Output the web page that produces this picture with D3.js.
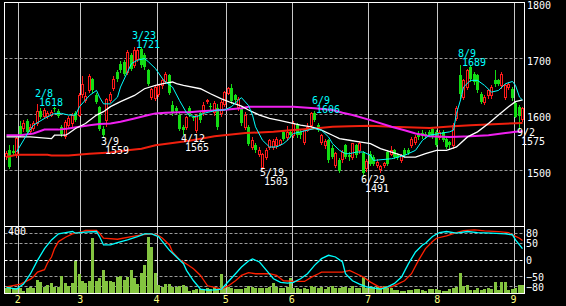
<!DOCTYPE html>
<html>
<head>
<meta charset="utf-8">
<script src="https://cdn.jsdelivr.net/npm/d3@7"></script>
<style>
body { margin:0; background:#000; }
svg { display:block; }
text { font-family: "DejaVu Sans Mono", "Liberation Mono", monospace; font-size:10px; }
</style>
</head>
<body>
<div id="chart"></div>
<script>
// daily candles: date, open, high, low, close
var candles = [
["1/26",1526,1535,1520,1532],["1/27",1536,1545,1504,1506],["1/28",1535,1545,1527,1531],["1/31",1527,1560,1524,1558],
["2/1",1580,1588,1562,1566],["2/2",1576,1590,1570,1584],["2/3",1588,1592,1565,1569],["2/4",1570,1583,1566,1578],
["2/7",1576,1588,1572,1585],["2/8",1584,1618,1582,1606],["2/9",1607,1612,1594,1596],["2/10",1598,1612,1594,1608],
["2/14",1597,1606,1593,1603],["2/15",1600,1608,1598,1605],["2/16",1612,1614,1606,1609],["2/17",1606,1609,1596,1598],
["2/18",1578,1582,1562,1566],["2/21",1561,1590,1558,1587],["2/22",1582,1597,1578,1594],["2/23",1584,1602,1580,1599],
["2/24",1603,1606,1588,1591],["2/25",1600,1638,1597,1634],
["3/1",1637,1668,1632,1655],["3/2",1626,1640,1622,1633],["3/3",1643,1672,1640,1669],["3/4",1664,1666,1640,1643],
["3/7",1634,1638,1620,1623],["3/8",1613,1616,1572,1575],["3/9",1575,1580,1559,1563],["3/10",1590,1630,1580,1627],
["3/11",1626,1640,1622,1637],["3/14",1648,1668,1644,1664],["3/15",1676,1680,1660,1664],["3/16",1691,1695,1676,1679],
["3/17",1694,1697,1670,1673],["3/18",1676,1715,1672,1712],["3/22",1706,1710,1680,1682],["3/23",1688,1721,1684,1715],
["3/24",1700,1718,1696,1716],["3/25",1717,1720,1685,1688],["3/28",1706,1709,1682,1685],["3/29",1679,1682,1652,1655],
["3/30",1631,1648,1628,1646],["3/31",1630,1652,1626,1649],
["4/1",1637,1655,1633,1652],["4/4",1652,1665,1648,1661],["4/5",1660,1676,1656,1673],["4/6",1670,1672,1636,1638],
["4/7",1617,1625,1600,1604],["4/8",1612,1616,1602,1606],["4/11",1599,1602,1572,1575],["4/12",1578,1581,1565,1572],
["4/13",1578,1598,1575,1596],["4/14",1612,1616,1597,1599],["4/15",1596,1598,1590,1593],["4/18",1572,1600,1568,1599],
["4/19",1602,1606,1586,1590],["4/20",1605,1622,1600,1617],["4/21",1624,1627,1621,1626],["4/22",1616,1620,1610,1613],
["4/25",1604,1625,1600,1620],["4/26",1611,1618,1575,1577],["4/27",1602,1626,1598,1623],["4/28",1619,1642,1615,1640],
["5/2",1639,1650,1636,1648],["5/6",1648,1655,1620,1625],["5/9",1634,1637,1622,1626],["5/10",1614,1632,1608,1628],
["5/11",1610,1614,1582,1584],["5/12",1578,1604,1575,1599],["5/13",1578,1582,1546,1548],["5/16",1542,1560,1538,1554],
["5/17",1545,1550,1533,1536],["5/18",1530,1542,1526,1536],["5/19",1506,1532,1503,1530],["5/20",1524,1540,1520,1536],
["5/23",1542,1556,1538,1554],["5/24",1542,1556,1538,1553],["5/25",1545,1560,1540,1557],["5/26",1548,1556,1545,1554],
["5/27",1569,1572,1554,1557],["5/30",1560,1580,1555,1569],["5/31",1569,1572,1560,1563],
["6/1",1563,1588,1560,1584],["6/2",1581,1584,1560,1563],["6/3",1569,1572,1558,1563],["6/6",1551,1575,1548,1572],
["6/7",1572,1584,1570,1578],["6/8",1581,1604,1578,1602],["6/9",1602,1606,1588,1590],["6/10",1581,1584,1570,1573],
["6/13",1551,1566,1548,1563],["6/14",1545,1556,1540,1552],["6/15",1554,1557,1516,1518],["6/16",1540,1545,1522,1524],
["6/17",1509,1533,1506,1531],["6/20",1518,1522,1497,1499],["6/21",1520,1536,1516,1533],["6/22",1545,1548,1522,1524],
["6/23",1528,1533,1518,1524],["6/24",1524,1550,1520,1549],["6/27",1545,1548,1524,1527],["6/28",1536,1552,1532,1549],
["6/29",1531,1534,1491,1496],["6/30",1505,1520,1500,1517],
["7/1",1530,1534,1510,1512],["7/4",1524,1527,1510,1512],["7/5",1510,1520,1506,1516],["7/6",1503,1510,1497,1508],
["7/7",1509,1516,1506,1513],["7/8",1533,1536,1510,1512],["7/11",1530,1543,1527,1537],["7/12",1536,1539,1522,1525],
["7/13",1528,1531,1520,1522],["7/14",1518,1530,1515,1528],["7/15",1537,1540,1526,1528],["7/19",1537,1540,1529,1531],
["7/20",1545,1560,1542,1557],["7/21",1551,1563,1548,1560],["7/22",1566,1570,1557,1560],["7/25",1567,1573,1558,1561],
["7/26",1566,1569,1558,1561],["7/27",1569,1572,1561,1563],["7/28",1575,1578,1558,1560],["7/29",1569,1572,1543,1545],
["8/1",1560,1572,1556,1569],["8/2",1569,1572,1552,1554],["8/3",1557,1560,1540,1542],["8/4",1551,1553,1540,1545],
["8/5",1545,1584,1540,1581],["8/8",1593,1615,1590,1611],["8/9",1670,1689,1630,1637],["8/10",1631,1664,1628,1661],
["8/11",1649,1682,1645,1679],["8/12",1685,1688,1660,1664],["8/15",1673,1676,1654,1658],["8/16",1670,1673,1640,1643],
["8/17",1637,1640,1620,1623],["8/18",1622,1634,1619,1631],["8/19",1634,1646,1630,1643],["8/22",1634,1652,1630,1649],
["8/23",1661,1679,1651,1655],["8/24",1661,1664,1652,1655],["8/25",1652,1676,1648,1673],["8/26",1631,1655,1628,1652],
["8/29",1650,1658,1646,1655],["8/30",1646,1650,1626,1629],
["9/1",1620,1624,1595,1596],["9/2",1614,1617,1575,1598],["9/5",1592,1614,1589,1611]
];

// volume, one value per day
var volume = [
30,40,30,34,30,16,30,40,30,80, 70,40,50,60,40,40,104,60,44,60,
195,115,74,64,74,332,74,90,139,74, 74,70,100,104,80,100,139,90,56,120,
169,338,279,120,50,40,54,54,40,40, 44,50,40,16,20,24,24,24,30,24,
36,24,116,30,40,30,24,24,24,30, 44,40,30,34,34,30,40,60,40,30,
30,40,90,30,30,24,30,24,44,40, 30,40,24,40,44,30,30,40,40,30,
44,30,30,100,30,30,40,40,30,44, 30,30,20,20,16,16,20,20,24,26,
20,16,24,24,24,20,14,14,24,30, 40,120,44,50,20,20,30,20,24,30,
24,70,20,70,70,20,24,30,50,50
];

// moving averages: [date, price]
var maShort = [
["1/31",1533],["2/3",1566],["2/7",1581],["2/10",1593],["2/16",1602],["2/18",1602],["2/22",1599],["2/24",1599],
["2/25",1614],["3/3",1634],["3/7",1643],["3/8",1631],["3/9",1619],["3/11",1619],["3/15",1631],["3/16",1649],
["3/18",1676],["3/22",1691],["3/24",1697],["3/28",1700],["3/29",1694],["3/31",1682],["4/4",1664],["4/5",1658],
["4/7",1649],["4/11",1625],["4/13",1603],["4/14",1598],["4/18",1596],["4/20",1602],["4/22",1605],["4/26",1608],
["4/28",1608],["5/6",1614],["5/10",1626],["5/11",1630],["5/13",1616],["5/16",1599],["5/17",1578],["5/19",1554],
["5/23",1542],["5/25",1542],["5/27",1548],["5/30",1554],["6/1",1566],["6/3",1569],["6/7",1572],["6/9",1575],
["6/13",1572],["6/15",1560],["6/16",1548],["6/20",1536],["6/22",1530],["6/23",1530],["6/27",1533],["6/29",1533],
["7/1",1527],["7/4",1518],["7/11",1521],["7/15",1527],["7/21",1536],["7/25",1554],["7/27",1563],["8/1",1566],
["8/4",1569],["8/5",1572],["8/8",1602],["8/9",1626],["8/10",1649],["8/12",1661],["8/16",1661],["8/18",1652],
["8/22",1640],["8/24",1643],["8/26",1655],["8/30",1659],["9/1",1652],["9/2",1631],["9/5",1626]
];
var maMid = [
["1/26",1560],["2/4",1560],["2/15",1557],["2/16",1563],["2/21",1563],["2/22",1566],["2/24",1575],["3/2",1584],
["3/7",1599],["3/9",1605],["3/11",1614],["3/16",1623],["3/23",1634],["3/28",1646],["3/31",1652],["4/5",1656],
["4/7",1658],["4/8",1655],["4/12",1652],["4/19",1646],["4/22",1637],["4/27",1628],["5/6",1621],["5/11",1615],
["5/13",1608],["5/18",1599],["5/23",1593],["5/26",1589],["5/31",1585],["6/3",1581],["6/8",1578],["6/13",1572],
["6/16",1563],["6/20",1557],["6/23",1554],["6/28",1551],["7/1",1548],["7/6",1539],["7/11",1533],["7/14",1527],
["7/15",1524],["7/21",1524],["7/26",1530],["7/29",1536],["8/3",1536],["8/8",1542],["8/11",1560],["8/16",1569],
["8/19",1584],["8/24",1599],["8/29",1614],["9/1",1623],["9/5",1626]
];
var maLong = [
["1/26",1563],["2/1",1563],["2/7",1566],["2/10",1573],["2/17",1573],["2/22",1575],["2/25",1578],["3/3",1581],
["3/8",1583],["3/11",1584],["3/16",1587],["3/23",1593],["3/29",1599],["3/31",1602],["4/5",1603],["4/11",1604],
["4/14",1604],["4/19",1606],["4/27",1608],["5/11",1611],["5/13",1614],["6/1",1614],["6/9",1611],["6/16",1608],
["6/21",1603],["6/24",1599],["7/1",1590],["7/11",1578],["7/15",1572],["7/21",1566],["7/27",1561],["8/4",1560],
["8/12",1561],["8/19",1563],["8/26",1567],["9/1",1569],["9/5",1570]
];
var maVeryLong = [
["1/26",1524],["1/31",1528],["2/14",1528],["2/15",1527],["2/22",1527],["3/3",1530],["3/11",1532],["3/18",1536],
["3/25",1539],["3/31",1545],["4/7",1549],["4/14",1553],["4/25",1561],["5/12",1567],["5/24",1569],["5/31",1572],
["6/9",1575],["6/16",1578],["6/23",1579],["7/1",1580],["7/11",1578],["7/27",1576],["8/5",1579],["8/12",1581],
["8/24",1583],["9/5",1585]
];

// oscillator lines in the lower panel: [date, value]
var oscFast = [
["1/26",-82],["1/31",-87],["2/2",-72],["2/4",-41],["2/8",-1],["2/10",34],["2/15",60],["2/17",78],["2/22",83],
["2/23",85],["2/24",80],["3/2",83],["3/7",85],["3/8",70],["3/9",45],["3/11",45],["3/15",52],["3/18",60],
["3/24",70],["3/28",78],["3/30",78],["4/1",70],["4/4",55],["4/6",29],["4/8",9],["4/12",-11],["4/13",-31],
["4/15",-62],["4/19",-87],["4/21",-90],["4/25",-89],["4/27",-87],["4/28",-77],["5/9",-41],["5/11",-21],
["5/13",-3],["5/16",3],["5/18",-6],["5/20",-31],["5/24",-56],["5/26",-67],["5/30",-69],["6/1",-67],["6/3",-56],
["6/7",-41],["6/9",-16],["6/13",4],["6/15",14],["6/17",9],["6/21",-6],["6/22",-41],["6/24",-62],["6/28",-72],
["6/30",-80],["7/6",-87],["7/8",-80],["7/12",-70],["7/14",-51],["7/19",-11],["7/21",24],["7/25",45],["7/26",50],
["7/28",70],["8/1",82],["8/3",85],["8/8",80],["8/11",85],["8/16",82],["8/22",80],["8/26",78],["8/30",75],
["9/1",60],["9/5",34]
];
var oscSlow = [
["1/26",-80],["2/1",-72],["2/4",-57],["2/7",-50],["2/8",-36],["2/10",-29],["2/14",-9],["2/15",9],["2/16",34],
["2/17",55],["2/21",68],["2/23",78],["3/1",85],["3/2",88],["3/7",88],["3/8",80],["3/9",65],["3/15",62],
["3/22",70],["3/25",75],["3/30",78],["4/1",73],["4/4",65],["4/6",45],["4/7",24],["4/11",1],["4/13",-12],
["4/15",-26],["4/19",-46],["4/21",-77],["4/25",-82],["4/27",-87],["5/2",-77],["5/9",-62],["5/11",-46],
["5/13",-38],["5/17",-41],["5/23",-41],["5/25",-46],["5/27",-62],["6/1",-64],["6/6",-64],["6/8",-51],
["6/10",-41],["6/13",-36],["6/16",-36],["6/21",-36],["6/23",-31],["6/27",-41],["6/29",-51],["7/1",-66],
["7/6",-82],["7/11",-80],["7/13",-72],["7/15",-62],["7/20",-41],["7/22",-1],["7/26",34],["7/28",55],
["7/29",65],["8/3",72],["8/8",82],["8/10",88],["8/15",90],["8/18",87],["8/24",85],["8/29",82],["8/30",75],
["9/2",65],["9/5",58]
];

var priceTicks = [1500, 1600, 1700, 1800];
var oscTicks = [80, 50, 0, -50, -80];
var volTicks = [400];
var highMarks = ["2/8", "3/23", "6/9", "8/9"];
var lowMarks = ["3/9", "4/12", "5/19", "6/29", "9/2"];

var W = 566, H = 306;
var padL = 4, padR = 524, padT = 2.5, midY = 226.5, padB = 293.5;

var svg = d3.select("#chart").append("svg")
    .attr("width", W).attr("height", H);
svg.append("rect").attr("width", W).attr("height", H).attr("fill", "#000");

var days = candles.map(function (d) { return d[0]; });
var byDate = new Map(candles.map(function (d) { return [d[0], d]; }));

var x = d3.scaleBand().domain(days).range([padL, padR]);
var bw = x.bandwidth();
function cx(date) { return Math.round(x(date) + bw / 2); }

var y = d3.scaleLinear().domain([1400, 1800]).range([midY, padT]);
var yOsc = d3.scaleLinear().domain([-100, 100]).range([padB, midY]);
var yVol = d3.scaleLinear().domain([0, 400]).range([padB, midY]);

function px(v) { return Math.floor(v) + 0.5; }

// month grid lines
var monthStarts = days.filter(function (d, i) {
  return i > 0 && d.split("/")[0] !== days[i - 1].split("/")[0];
});
svg.append("g").selectAll("line").data(monthStarts).join("line")
    .attr("x1", function (d) { return Math.round(x(d)) + 0.5; })
    .attr("x2", function (d) { return Math.round(x(d)) + 0.5; })
    .attr("y1", padT).attr("y2", padB)
    .attr("stroke", "#c8c8c8").attr("stroke-width", 1);

// dashed price lines
svg.append("g").selectAll("line").data(priceTicks.filter(function (t) { return t < 1800; })).join("line")
    .attr("x1", padL + 0.5).attr("x2", padR + 0.5)
    .attr("y1", function (d) { return px(y(d)); })
    .attr("y2", function (d) { return px(y(d)); })
    .attr("stroke", "#9a9a9a").attr("stroke-dasharray", "3,2");

// dashed oscillator lines
svg.append("g").selectAll("line").data(oscTicks).join("line")
    .attr("x1", padL + 0.5).attr("x2", padR + 0.5)
    .attr("y1", function (d) { return px(yOsc(d)); })
    .attr("y2", function (d) { return px(yOsc(d)); })
    .attr("stroke", function (d) { return d === 0 ? "#ffffff" : "#9a9a9a"; })
    .attr("stroke-dasharray", "3,2");

// volume bars
svg.append("g").selectAll("rect").data(candles).join("rect")
    .attr("x", function (d) { return cx(d[0]) - 1; })
    .attr("width", 3)
    .attr("y", function (d, i) { return Math.round(yVol(volume[i])); })
    .attr("height", function (d, i) { return Math.round(padB) - Math.round(yVol(volume[i])); })
    .attr("fill", "#84c440");

// candles
var up = "#ff1a1a", down = "#14dc14";
var cg = svg.append("g").selectAll("g").data(candles).join("g");
cg.append("line")
    .attr("x1", function (d) { return cx(d[0]) + 0.5; })
    .attr("x2", function (d) { return cx(d[0]) + 0.5; })
    .attr("y1", function (d) { return Math.round(y(d[2])); })
    .attr("y2", function (d) { return Math.round(y(d[3])) + 1; })
    .attr("stroke", function (d) { return d[4] >= d[1] ? up : down; });
cg.filter(function (d) { return d[4] >= d[1]; }).append("rect")
    .attr("x", function (d) { return cx(d[0]) - 0.5; })
    .attr("width", 2)
    .attr("y", function (d) { return Math.round(y(d[4])) + 0.5; })
    .attr("height", function (d) { return Math.max(1, Math.round(y(d[1])) - Math.round(y(d[4]))); })
    .attr("fill", "#000").attr("stroke", up);
cg.filter(function (d) { return d[4] < d[1]; }).append("rect")
    .attr("x", function (d) { return cx(d[0]) - 1; })
    .attr("width", 3)
    .attr("y", function (d) { return Math.round(y(d[1])); })
    .attr("height", function (d) { return Math.max(1, Math.round(y(d[4])) - Math.round(y(d[1]))); })
    .attr("fill", down);

// lines
function drawLine(data, scale, color, w) {
  var line = d3.line()
      .x(function (d) { return cx(d[0]) + 0.5; })
      .y(function (d) { return scale(d[1]); });
  svg.append("path").datum(data)
      .attr("d", line)
      .attr("fill", "none").attr("stroke", color).attr("stroke-width", w);
}
drawLine(maVeryLong, y, "#f0200e", 2);
drawLine(maLong, y, "#f020f0", 2);
drawLine(maMid, y, "#ffffff", 1.3);
drawLine(maShort, y, "#00ffff", 1);
drawLine(oscSlow, yOsc, "#ff2000", 1.3);
drawLine(oscFast, yOsc, "#00ffff", 1.3);

// frame
var frame = svg.append("g").attr("stroke", "#fff").attr("stroke-width", 1).attr("fill", "none");
frame.append("rect").attr("x", padL + 0.5).attr("y", padT).attr("width", padR - padL).attr("height", padB - padT);
frame.append("line").attr("x1", padL + 0.5).attr("x2", padR + 0.5).attr("y1", midY).attr("y2", midY);

// high / low annotations
var ann = svg.append("g");
highMarks.forEach(function (dt) {
  var d = byDate.get(dt), p = cx(dt), yy = y(d[2]);
  ann.append("text").attr("x", p - 2).attr("y", yy - 7.5).attr("fill", "#00ffff").text(dt);
  ann.append("text").attr("x", p + 2).attr("y", yy + 1.5).attr("fill", "#00ffff").text(d[2]);
});
lowMarks.forEach(function (dt) {
  var d = byDate.get(dt), p = cx(dt), yy = y(d[3]);
  ann.append("text").attr("x", p - 2).attr("y", yy + 7.5).attr("fill", "#fff").text(dt);
  ann.append("text").attr("x", p + 2).attr("y", yy + 16.5).attr("fill", "#fff").text(d[3]);
});

// axes
var gy = svg.append("g").attr("transform", "translate(" + padR + ",0)")
    .call(d3.axisRight(y).tickValues(priceTicks).tickSize(0).tickPadding(3).tickFormat(d3.format("d")));
gy.select(".domain").remove();
gy.selectAll("text").attr("dy", 5.5).attr("fill", "#fff").style("font-size", "10px")
    .style("font-family", "DejaVu Sans Mono");

var go = svg.append("g").attr("transform", "translate(" + padR + ",0)")
    .call(d3.axisRight(yOsc).tickValues(oscTicks).tickSize(0).tickPadding(2));
go.select(".domain").remove();
go.selectAll("text").attr("dy", 3.5).attr("fill", "#fff").style("font-size", "10px")
    .style("font-family", "DejaVu Sans Mono");

svg.append("g").selectAll("text").data(volTicks).join("text")
    .attr("x", padL + 4).attr("y", function (d) { return yVol(d) + 8.5; })
    .attr("fill", "#fff").text(function (d) { return d; });

var gx = svg.append("g").attr("transform", "translate(" + (-bw / 2) + "," + padB + ")")
    .call(d3.axisBottom(x).tickValues(monthStarts).tickSize(0).tickPadding(2.5)
      .tickFormat(function (d) { return d.split("/")[0]; }));
gx.select(".domain").remove();
gx.selectAll("text").attr("fill", "#ffff80").style("font-size", "10px")
    .style("font-family", "DejaVu Sans Mono");
</script>
</body>
</html>
